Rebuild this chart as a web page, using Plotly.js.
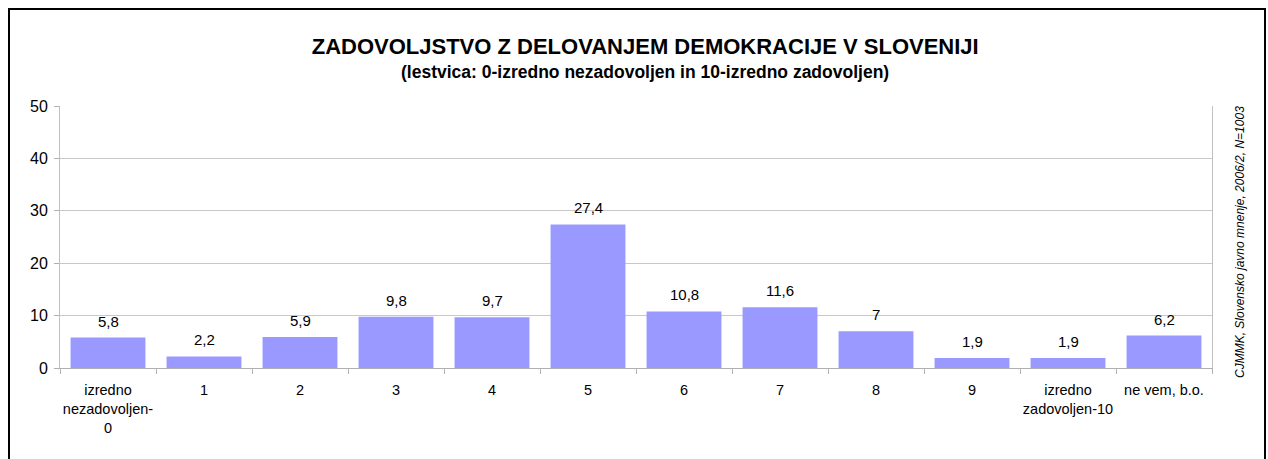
<!DOCTYPE html>
<html>
<head>
<meta charset="utf-8">
<script src="https://cdn.plot.ly/plotly-3.0.1.min.js"></script>
<style>html,body{margin:0;padding:0;background:#fff;}#chart{width:1268px;height:459px;}</style>
</head>
<body>
<div id="chart"></div>
<script>
const categories = ["izredno<br>nezadovoljen-<br>0", "1", "2", "3", "4", "5", "6", "7", "8", "9", "izredno<br>zadovoljen-10", "ne vem, b.o."];
const values = [5.8, 2.2, 5.9, 9.8, 9.7, 27.4, 10.8, 11.6, 7, 1.9, 1.9, 6.2];
const yTicks = [0, 10, 20, 30, 40, 50];
const titleText = "ZADOVOLJSTVO Z DELOVANJEM DEMOKRACIJE V SLOVENIJI";
const subtitleText = "(lestvica: 0-izredno nezadovoljen in 10-izredno zadovoljen)";
const sourceText = "CJMMK, Slovensko javno mnenje, 2006/2, N=1003";

const W = 1268, H = 459;
const mL = 60, mR = 56, mT = 106, mB = 91;
const pw = W - mL - mR, ph = H - mT - mB;
const px = v => (v - mL) / pw;
const py = v => (H - mB - v) / ph;

const labelAnnotations = categories.map((c, i) => ({
  x: c, y: values[i], xref: 'x', yref: 'y',
  text: String(values[i]).replace('.', ','),
  showarrow: false, yanchor: 'bottom', yshift: 6,
  font: {family: 'Liberation Sans, Arial, sans-serif', size: 15, color: '#000'}
}));

const data = [{
  type: 'bar', x: categories, y: values,
  marker: {color: '#9999FF', line: {width: 0}},
  hoverinfo: 'none'
}];

const layout = {
  width: W, height: H,
  margin: {l: mL, r: mR, t: mT, b: mB},
  paper_bgcolor: '#fff', plot_bgcolor: '#fff',
  showlegend: false,
  bargap: 0.22,
  font: {family: 'Liberation Sans, Arial, sans-serif', color: '#000'},
  title: {
    text: '<b>' + titleText + '</b>',
    x: 0.508, xanchor: 'center', xref: 'paper',
    y: 1 - 46 / H, yanchor: 'middle', yref: 'container',
    font: {family: 'Liberation Sans, Arial, sans-serif', size: 22, color: '#000'}
  },
  xaxis: {
    type: 'category',
    showgrid: false,
    showline: true, linecolor: '#b0b0b0', linewidth: 1,
    ticks: 'outside', tickson: 'boundaries', ticklen: 5, tickcolor: '#b0b0b0',
    ticklabelstandoff: 9,
    tickangle: 0,
    tickfont: {size: 14.5, color: '#000'},
    fixedrange: true
  },
  yaxis: {
    range: [0, 50],
    tickvals: yTicks,
    showgrid: true, gridcolor: '#c8c8c8', gridwidth: 1,
    showline: true, linecolor: '#c0c0c0', linewidth: 1, mirror: true,
    ticks: 'outside', ticklen: 5, tickcolor: '#b0b0b0',
    ticklabelstandoff: 3,
    tickfont: {size: 16, color: '#000'},
    zeroline: false,
    fixedrange: true
  },
  annotations: labelAnnotations.concat([
    {
      xref: 'paper', yref: 'paper', x: 0.508, y: py(72),
      text: '<b>' + subtitleText + '</b>', showarrow: false,
      xanchor: 'center', yanchor: 'middle',
      font: {size: 17.5, color: '#000'}
    },
    {
      xref: 'paper', yref: 'paper', x: px(1240), y: py(242),
      text: '<i>' + sourceText + '</i>', showarrow: false,
      textangle: -90, xanchor: 'center', yanchor: 'middle',
      font: {size: 12, color: '#000'}
    }
  ]),
  shapes: [{
    type: 'rect', xref: 'paper', yref: 'paper',
    x0: px(9), x1: px(1265), y0: py(470), y1: py(9),
    line: {color: '#000', width: 2}, fillcolor: 'rgba(0,0,0,0)', layer: 'below'
  }]
};

Plotly.newPlot('chart', data, layout, {displayModeBar: false, staticPlot: true});
</script>
</body>
</html>
